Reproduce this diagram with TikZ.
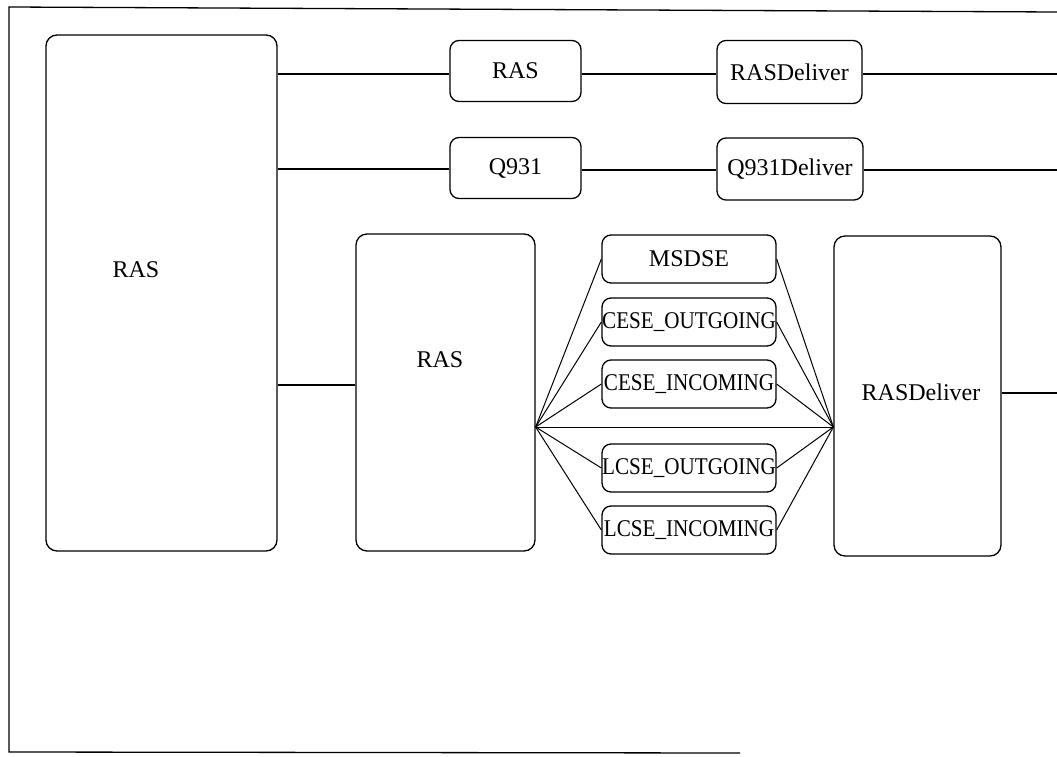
\documentclass[tikz,border=0pt]{standalone}
\usepackage{fontspec}
\setmainfont{Liberation Serif}
\newfontfamily\condfont[FakeStretch=0.88]{Liberation Serif}
\begin{document}
\begin{tikzpicture}[x=1pt,y=-1pt,
  box/.style={draw, rounded corners=9pt, inner sep=0pt, line width=1.3pt},
  bigbox/.style={box, rounded corners=11pt},
  lbl/.style={font=\fontsize{24}{27}\selectfont},
  slbl/.style={font=\condfont\fontsize{24}{27}\selectfont},
  wire/.style={draw, line width=1.3pt},
  fan/.style={draw, line width=1pt}]
\useasboundingbox (0,0) rectangle (1057,757);

% outer frame (open on the right)
\draw[line width=1.3pt] (1057,12) -- (9,7) -- (9,752) -- (740,753);

% left block
\node[bigbox, minimum width=231pt, minimum height=516pt] (big) at (161.5,293) {};
\node[lbl] (bigtxt) at (136,270) {RAS};

% upper two rows
\node[box, minimum width=131pt, minimum height=61pt, lbl] (ras) at (515.5,71) {RAS};
\node[box, minimum width=145pt, minimum height=63pt, lbl] (rasd) at (789.5,72) {RASDeliver};
\node[box, minimum width=131pt, minimum height=61pt, lbl] (q) at (515.5,168) {Q931};
\node[box, minimum width=146pt, minimum height=62pt, lbl] (qd) at (790,169) {Q931Deliver};
\coordinate (o1) at (1057,74);
\coordinate (o2) at (1057,170);

\draw[wire] (big.east |- 0,74) -- (ras.west |- 0,74);
\draw[wire] (ras.east |- 0,74) -- (rasd.west |- 0,74);
\draw[wire] (rasd.east |- o1) -- (o1);
\draw[wire] (big.east |- 0,169) -- (q.west |- 0,169);
\draw[wire] (q.east |- 0,170) -- (qd.west |- 0,170);
\draw[wire] (qd.east |- o2) -- (o2);

% middle RAS block
\node[bigbox, minimum width=179pt, minimum height=317pt] (mid) at (445.5,392.5) {};
\node[lbl] (midtxt) at (440,360) {RAS};
\draw[wire] (big.east |- 0,385) -- (mid.west |- 0,385);

% entity boxes
\node[box, minimum width=174pt, minimum height=48pt, lbl] (ms) at (689,259) {MSDSE};
\node[box, minimum width=174pt, minimum height=48pt, slbl] (co) at (689,322) {CESE\_OUTGOING};
\node[box, minimum width=174pt, minimum height=48pt, slbl] (ci) at (689,384) {CESE\_INCOMING};
\node[box, minimum width=174pt, minimum height=48pt, slbl] (lo) at (689,468) {LCSE\_OUTGOING};
\node[box, minimum width=174pt, minimum height=48pt, slbl] (li) at (689,530) {LCSE\_INCOMING};

% right RASDeliver block
\node[bigbox, minimum width=167pt, minimum height=320pt] (rd) at (917.5,396) {};
\node[lbl] (rdtxt) at (921,392) {RASDeliver};
\coordinate (o3) at (1057,393);
\draw[wire] (rd.east |- o3) -- (o3);

% fan connections
\coordinate (hl) at (mid.east |- 0,427);
\coordinate (hr) at (rd.west |- 0,427);
\draw[fan] (hl) -- (hr);
\foreach \n in {ms,co,ci,lo,li}{
  \draw[fan] (hl) -- (\n.west);
  \draw[fan] (\n.east) -- (hr);
}
\end{tikzpicture}
\end{document}
